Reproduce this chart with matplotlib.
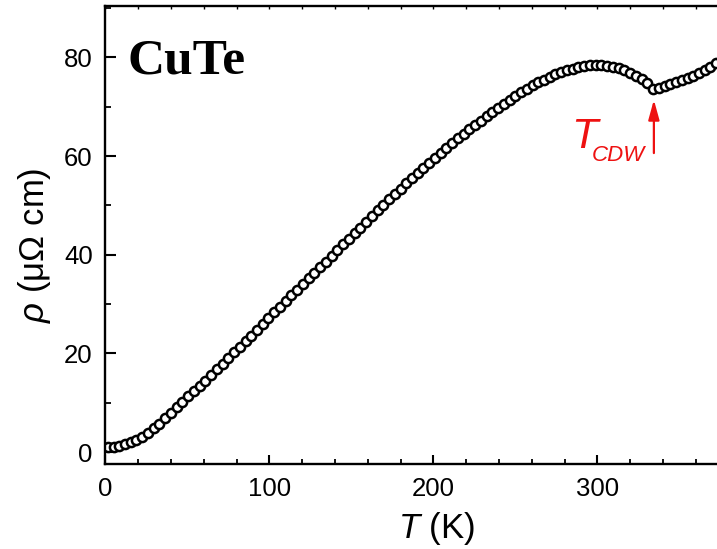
import matplotlib
matplotlib.use("Agg")
import matplotlib.pyplot as plt
from matplotlib.ticker import MultipleLocator
from matplotlib.patches import FancyArrowPatch

plt.rcParams['font.family'] = ['Liberation Sans', 'DejaVu Sans']
plt.rcParams['mathtext.fontset'] = 'custom'
plt.rcParams['mathtext.it'] = 'Liberation Sans:italic'
plt.rcParams['mathtext.rm'] = 'Liberation Sans'

# Temperature (K)
T = [1.5, 5, 8.5, 12, 15.5, 19, 22.5, 26, 29.5, 33, 36.5, 40, 43.5, 47, 50.5,
     54, 57.5, 61, 64.5, 68, 71.5, 75, 78.5, 82, 85.5, 89, 92.5, 96, 99.5,
     103, 106.5, 110, 113.5, 117, 120.5, 124, 127.5, 131, 134.5, 138, 141.5,
     145, 148.5, 152, 155.5, 159, 162.5, 166, 169.5, 173, 176.5, 180, 183.5,
     187, 190.5, 194, 197.5, 201, 204.5, 208, 211.5, 215, 218.5, 222, 225.5,
     229, 232.5, 236, 239.5, 243, 246.5, 250, 253.5, 257, 260.5, 264, 267.5,
     271, 274.5, 278, 281.5, 285, 288.5, 292, 295.5, 299, 302.5, 306, 309.5,
     313, 316.5, 320, 323.5, 327, 330.5, 334, 337.5, 341, 344.5, 348, 351.5,
     355, 358.5, 362, 365.5, 369, 372.5, 376]
# Resistivity (micro-ohm cm)
rho = [1.0, 1.1, 1.3, 1.6, 2.0, 2.5, 3.1, 3.9, 4.8, 5.8, 6.9, 8.0, 9.1, 10.2, 11.3,
       12.4, 13.4, 14.5, 15.6, 16.8, 17.9, 19.0, 20.2, 21.3, 22.5, 23.6, 24.8, 26.0, 27.2,
       28.3, 29.5, 30.6, 31.8, 32.9, 34.0, 35.2, 36.3, 37.5, 38.6, 39.8, 40.9,
       42.1, 43.2, 44.4, 45.5, 46.7, 47.8, 49.0, 50.1, 51.2, 52.3, 53.4, 54.5,
       55.5, 56.6, 57.6, 58.6, 59.6, 60.6, 61.6, 62.6, 63.6, 64.5, 65.4, 66.3,
       67.2, 68.1, 68.9, 69.8, 70.6, 71.4, 72.2, 72.9, 73.6, 74.3, 74.9, 75.5,
       76.1, 76.6, 77.0, 77.4, 77.7, 78.0, 78.2, 78.4, 78.5, 78.4, 78.3, 78.1,
       77.8, 77.4, 76.9, 76.3, 75.6, 74.8, 73.6, 73.7, 74.1, 74.5, 75.0, 75.4,
       75.9, 76.3, 76.8, 77.4, 78.1, 78.9, 79.6]

xlim = (0, 400)
ylim = (-2.4, 90.4)
x_major = [0, 100, 200, 300]
y_major = [0, 20, 40, 60, 80]
T_cdw = 334.5

W, H = 717, 549
fig = plt.figure(figsize=(W / 100, H / 100), dpi=100)
ax_left, ax_bottom = 105.3 / W, 85 / H
ax_w, ax_h = 656 / W, 458 / H
ax = fig.add_axes([ax_left, ax_bottom, ax_w, ax_h])

ax.plot(T, rho, linestyle='none', marker='o', markersize=6.6,
        markerfacecolor='white', markeredgecolor='black', markeredgewidth=1.8,
        clip_on=True)

ax.set_xlim(*xlim)
ax.set_ylim(*ylim)
ax.set_xticks(x_major)
ax.set_yticks(y_major)
ax.xaxis.set_minor_locator(MultipleLocator(20))
ax.yaxis.set_minor_locator(MultipleLocator(10))

for s in ['left', 'bottom', 'top']:
    ax.spines[s].set_linewidth(1.7)
    ax.spines[s].set_color('black')
ax.spines['right'].set_visible(False)

ax.tick_params(axis='x', which='major', direction='in', length=6.5, width=1.5,
               labelsize=18.5, pad=9, top=True, labeltop=False)
ax.tick_params(axis='x', which='minor', direction='in', length=3.5, width=1.3, top=True)
ax.tick_params(axis='y', which='major', direction='in', length=8, width=1.5,
               labelsize=18.5, pad=9)
ax.tick_params(axis='y', which='minor', direction='in', length=4.5, width=1.3)
# shorter ticks on top
for t in ax.xaxis.get_major_ticks() + ax.xaxis.get_minor_ticks():
    t.tick2line.set_markersize(2.5)
    t.tick2line.set_markeredgewidth(1.0)

ax.set_xlabel(r'$T$ (K)', fontsize=25)
ax.set_ylabel(r'$\rho$ (μΩ cm)', fontsize=25)
ax.xaxis.set_label_coords((437 - 105.3) / 656, -(510 - 464) / 458)
ax.yaxis.set_label_coords((53 - 105.3) / 656, (464 - 245) / 458)

ax.text((127 - 105.3) / 656, (464 - 73) / 458, 'CuTe', transform=ax.transAxes,
        fontsize=37, fontweight='bold', family='Liberation Serif',
        ha='left', va='baseline')

red = '#ee1111'
ax.text(284.0, 61.6, 'T', color=red, fontsize=31, style='italic',
        ha='left', va='baseline')
ax.text(296.5, 59.0, 'CDW', color=red, fontsize=16, style='italic',
        ha='left', va='baseline')
arrow = FancyArrowPatch((T_cdw, 60.6), (T_cdw, 71.4),
                        arrowstyle='-|>,head_length=0.8,head_width=0.22',
                        mutation_scale=15, color=red, linewidth=1.6,
                        shrinkA=0, shrinkB=0)
ax.add_patch(arrow)

fig.savefig('out.png', dpi=100)
